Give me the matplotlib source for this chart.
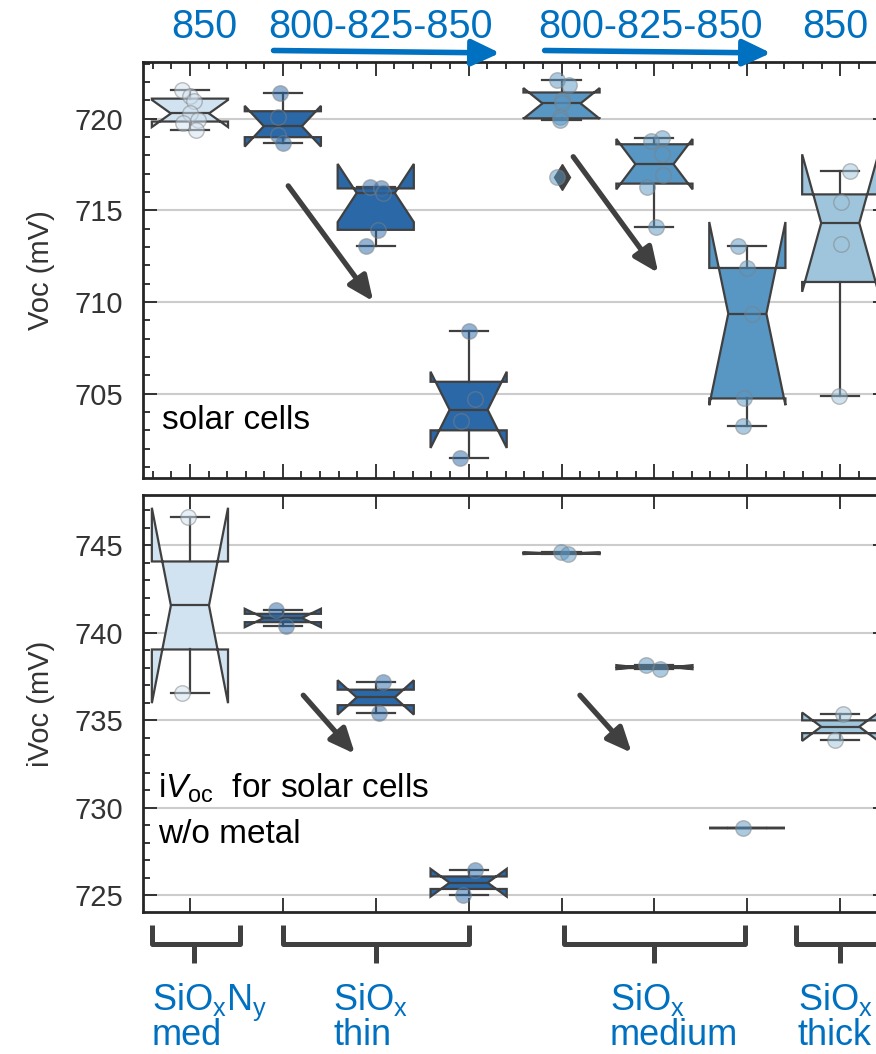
import matplotlib
matplotlib.use('Agg')
import matplotlib.pyplot as plt
import matplotlib.transforms as mtransforms
from matplotlib.ticker import MultipleLocator, FixedLocator, NullLocator
import numpy as np

plt.rcParams['font.family'] = 'Liberation Sans'
plt.rcParams['mathtext.fontset'] = 'custom'
plt.rcParams['mathtext.rm'] = 'Liberation Sans'
plt.rcParams['mathtext.it'] = 'Liberation Sans:italic'

# 8 samples, left to right
box_colors = ['#d1e2f1', '#2b68a8', '#2b68a8', '#2b68a8',
              '#5896c3', '#5896c3', '#5896c3', '#9ec5dc']

# Voc of finished solar cells (mV)
voc = [
    [721.56, 721.25, 720.95, 720.29, 719.92, 719.78, 719.37],
    [721.41, 720.08, 719.11, 718.66],
    [716.30, 716.20, 715.95, 713.94, 713.04],
    [708.41, 704.73, 703.51, 701.47],
    [722.10, 721.87, 721.00, 720.84, 720.10, 719.95, 716.84],
    [718.95, 718.78, 718.10, 716.95, 716.30, 714.07],
    [713.07, 711.86, 709.37, 704.74, 703.24],
    [717.15, 715.45, 713.17, 704.87],
]
# horizontal strip offsets of the points
voc_jitter = [
    [-0.09, 0.0, 0.04, 0.0, 0.09, -0.07, 0.07],
    [-0.03, -0.05, -0.05, 0.0],
    [-0.065, 0.06, 0.075, 0.02, -0.1],
    [0.0, 0.07, -0.08, -0.09],
    [-0.045, 0.085, 0.0, 0.0, -0.02, -0.02, -0.045],
    [0.085, -0.04, 0.085, 0.09, -0.075, 0.015],
    [-0.1, 0.0, 0.05, -0.035, -0.045],
    [0.1, 0.01, 0.01, -0.01],
]

# implied Voc, cells without metal (mV)
ivoc = [
    [746.58, 736.52],
    [741.31, 740.36],
    [737.18, 735.41],
    [726.42, 724.99],
    [744.58, 744.49],
    [738.13, 737.92],
    [728.85],
    [735.35, 733.89],
]
ivoc_jitter = [
    [-0.025, -0.09],
    [-0.075, 0.03],
    [0.08, 0.04],
    [0.07, -0.065],
    [-0.01, 0.07],
    [-0.095, 0.055],
    [-0.05],
    [0.035, -0.055],
]

# annealing temperatures on top
anneal_labels = ['850', '800-825-850', '800-825-850', '850']
anneal_x = [0.15, 2.05, 4.96, 6.95]

# layer groups under the bottom panel
group_labels = [r'SiO$_{\mathrm{x}}$N$_{\mathrm{y}}$' + '\nmed',
                r'SiO$_{\mathrm{x}}$' + '\nthin',
                r'SiO$_{\mathrm{x}}$' + '\nmedium',
                r'SiO$_{\mathrm{x}}$' + '\nthick']
group_text_x = [-0.41, 1.54, 4.52, 6.545]
group_linespacing = [0.82, 1.0, 1.0, 1.0]
bracket_span = [(-0.41, 0.54), (1.0, 3.0), (4.03, 5.98), (6.52, 7.48)]
bracket_stem = [0.04, 2.0, 5.0, 7.0]

line_c = '#404040'
blue = '#0070C0'
spine_c = '#262626'

fig = plt.figure(figsize=(8.76, 10.54), dpi=100)
ax1 = fig.add_axes([0.1638, 0.5465, 0.8484, 0.3947])
ax2 = fig.add_axes([0.1638, 0.1347, 0.8484, 0.3956])


def draw_boxes(ax, data, jitter):
    pos = np.arange(len(data))
    bp = ax.boxplot(data, positions=pos, widths=0.82, notch=True,
                    patch_artist=True, manage_ticks=False,
                    boxprops=dict(edgecolor=line_c, linewidth=1.6),
                    medianprops=dict(color=line_c, linewidth=1.6),
                    whiskerprops=dict(color=line_c, linewidth=1.6),
                    capprops=dict(color=line_c, linewidth=1.6),
                    flierprops=dict(marker='d', markerfacecolor=line_c,
                                    markeredgecolor=line_c, markersize=13))
    for patch, c in zip(bp['boxes'], box_colors):
        patch.set_facecolor(c)
    for i, (vals, jit) in enumerate(zip(data, jitter)):
        ax.scatter(i + np.array(jit), vals, s=125, color=box_colors[i],
                   alpha=0.5, edgecolors='gray', linewidths=1, zorder=3)


draw_boxes(ax1, voc, voc_jitter)
draw_boxes(ax2, ivoc, ivoc_jitter)

ax1.set_ylim(700.4, 723.1)
ax2.set_ylim(724.03, 747.86)

for ax in (ax1, ax2):
    ax.set_xlim(-0.5, 7.5)
    ax.xaxis.set_major_locator(FixedLocator(range(8)))
    ax.yaxis.set_major_locator(MultipleLocator(5))
    ax.yaxis.set_minor_locator(MultipleLocator(1))
    ax.tick_params(which='both', direction='in', top=True, right=True,
                   labelbottom=False, width=1.3, color=spine_c)
    ax.tick_params(which='major', length=10)
    ax.tick_params(which='minor', length=5)
    ax.tick_params(axis='y', labelsize=21, pad=14.8, labelcolor='#333333')
    ax.grid(axis='y', color='#cccccc', linewidth=1.5)
    ax.set_axisbelow(True)
    for sp in ax.spines.values():
        sp.set_linewidth(2)
        sp.set_color(spine_c)
ax1.xaxis.set_minor_locator(MultipleLocator(0.2))
ax2.xaxis.set_minor_locator(NullLocator())

ax1.set_ylabel('Voc (mV)', fontsize=21, labelpad=14, color='#333333')
ax2.set_ylabel('iVoc (mV)', fontsize=21, labelpad=14, color='#333333')

# trend arrows
arrow_kw = dict(arrowstyle='-|>,head_length=0.75,head_width=0.33',
                color=line_c, lw=3.8, mutation_scale=20,
                shrinkA=0, shrinkB=0)
ax1.annotate('', xy=(1.973, 710.04), xytext=(1.058, 716.34), arrowprops=arrow_kw)
ax1.annotate('', xy=(5.041, 711.59), xytext=(4.126, 717.93), arrowprops=arrow_kw)
ax2.annotate('', xy=(1.776, 733.07), xytext=(1.22, 736.42), arrowprops=arrow_kw)
ax2.annotate('', xy=(4.755, 733.13), xytext=(4.198, 736.42), arrowprops=arrow_kw)

ax1.text(-0.305, 703.1, 'solar cells', fontsize=24, va='baseline')
ax2.text(-0.344, 730.56, r'i$\mathit{V}_{\mathrm{oc}}$  for solar cells',
         fontsize=24, va='baseline')
ax2.text(-0.344, 727.99, 'w/o metal', fontsize=24, va='baseline')

# annealing temperatures above the top panel
trans1 = mtransforms.blended_transform_factory(ax1.transData, ax1.transAxes)
for lab, x in zip(anneal_labels, anneal_x):
    ax1.text(x, 1.057, lab, transform=trans1, fontsize=28.5, color=blue,
             ha='center', va='baseline')
blue_kw = dict(arrowstyle='-|>,head_length=0.85,head_width=0.4',
               color=blue, lw=4, mutation_scale=20, shrinkA=0, shrinkB=0)
ax1.annotate('', xy=(3.337, 1.0216), xytext=(0.90, 1.0276), xycoords=trans1,
             textcoords=trans1, arrowprops=blue_kw, annotation_clip=False)
ax1.annotate('', xy=(6.254, 1.0216), xytext=(3.818, 1.0276), xycoords=trans1,
             textcoords=trans1, arrowprops=blue_kw, annotation_clip=False)

# group brackets and names below the bottom panel
trans2 = mtransforms.blended_transform_factory(ax2.transData, ax2.transAxes)
for (x0, x1), xc in zip(bracket_span, bracket_stem):
    ax2.plot([x0, x0, x1, x1], [-0.031, -0.077, -0.077, -0.031],
             transform=trans2, color=line_c, lw=3.6, clip_on=False,
             solid_joinstyle='round', solid_capstyle='butt')
    ax2.plot([xc, xc], [-0.077, -0.122], transform=trans2, color=line_c,
             lw=3.6, clip_on=False, solid_capstyle='butt')
# va='baseline' anchors the last line of a multi-line text
for lab, x, ls in zip(group_labels, group_text_x, group_linespacing):
    ax2.text(x, -0.3195, lab, transform=trans2, fontsize=26, color=blue,
             va='baseline', linespacing=ls)

fig.savefig('out.png', dpi=100)
